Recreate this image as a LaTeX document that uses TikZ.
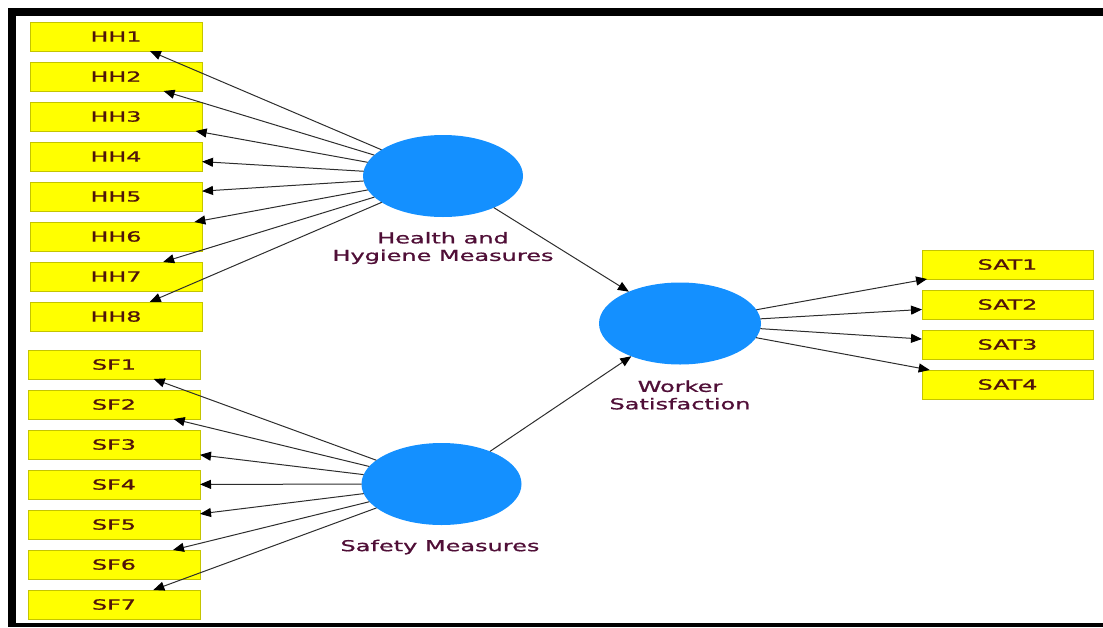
\documentclass[tikz,border=0pt]{standalone}
\usepackage{fontspec}
\setmainfont{DejaVu Sans}
\newfontfamily\heavyfont[FakeBold=0.8]{DejaVu Sans}
\usepackage{graphicx}
\usetikzlibrary{shapes.geometric,arrows.meta}
\definecolor{boxyellow}{RGB}{255,255,0}
\definecolor{boxedge}{RGB}{196,196,0}
\definecolor{lvblue}{RGB}{20,144,255}
\definecolor{itemtext}{RGB}{80,20,10}
\definecolor{lvtext}{RGB}{80,15,55}
\definecolor{linegray}{RGB}{45,45,45}
\newcommand{\widetxt}[1]{\scalebox{1.6}[1]{#1}}
\newcommand{\itemtxt}[1]{\scalebox{1.7}[1]{#1}}
\begin{document}
\begin{tikzpicture}[x=1pt,y=-1pt,
  item/.style={draw=boxedge, fill=boxyellow, line width=0.9pt, minimum width=172pt, minimum height=29pt, inner sep=0pt, outer sep=0pt, font=\heavyfont\fontsize{14}{14}\selectfont, text=itemtext},
  latent/.style={ellipse, fill=lvblue, minimum width=160pt, minimum height=82pt, inner sep=0pt, outer sep=0pt},
  lvlabel/.style={font=\heavyfont\fontsize{15}{17.5}\selectfont, text=lvtext, align=center, inner sep=0pt},
  conn/.style={draw=linegray, line width=1pt, -{Triangle[length=11pt,width=9pt,color=black]}},
  frame/.style={fill=black, draw=none}]
\useasboundingbox (0,0) rectangle (1103,627);
% frame
\fill[frame] (8,8) rectangle (1103,16);
\fill[frame] (8,8) rectangle (16,627);
\fill[frame] (8,623) rectangle (1103,627);
% indicators
\foreach \i in {1,...,8} {
  \node[item] (hh\i) at (116,{36.5+40*(\i-1)}) {\itemtxt{HH\i}};
}
\foreach \i in {1,...,7} {
  \node[item] (sf\i) at (114,{364.5+40*(\i-1)}) {\itemtxt{SF\i}};
}
\foreach \i in {1,...,4} {
  \node[item, minimum width=171pt] (sat\i) at (1007.5,{264.5+40*(\i-1)}) {\itemtxt{SAT\i}};
}
% latent variables
\node[latent] (hh) at (443,176) {};
\node[latent] (sf) at (441.5,484) {};
\node[latent, minimum width=162pt] (ws) at (680,323.5) {};
\node[lvlabel] (hhl) at (443,248) {\widetxt{Health and}\\\widetxt{Hygiene Measures}};
\node[lvlabel] (wsl) at (680,395) {\widetxt{Worker}\\\widetxt{Satisfaction}};
\node[lvlabel] (sfl) at (440,547) {\widetxt{Safety Measures}};
% connectors
\foreach \i in {1,...,8} { \draw[conn] (hh) -- (hh\i); }
\foreach \i in {1,...,7} { \draw[conn] (sf) -- (sf\i); }
\foreach \i in {1,...,4} { \draw[conn] (ws) -- (sat\i); }
\draw[conn] (hh) -- (ws);
\draw[conn] (sf) -- (ws);
\end{tikzpicture}
\end{document}
